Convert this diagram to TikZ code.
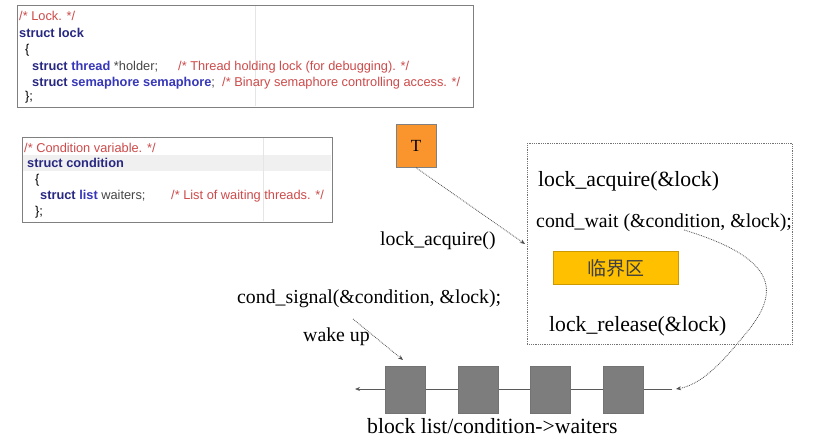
\documentclass[tikz,border=0pt]{standalone}
\usepackage{fontspec}
\setmainfont{Liberation Serif}
\newfontfamily\codefont{Liberation Sans}
\newfontfamily\cjk{Noto Sans CJK SC}
\usetikzlibrary{arrows.meta}
\definecolor{cmt}{RGB}{205,75,75}
\definecolor{kw}{RGB}{40,40,130}
\definecolor{ty}{RGB}{55,55,185}
\definecolor{idt}{RGB}{70,70,70}
\definecolor{orangeT}{RGB}{250,148,45}
\definecolor{crit}{RGB}{255,192,0}
\definecolor{blk}{RGB}{125,125,125}
\begin{document}
\begin{tikzpicture}[x=1pt,y=-1pt,
  code/.style={anchor=base west, inner sep=0pt, font=\codefont\fontsize{12.8}{14}\selectfont},
  lbl/.style={anchor=base west, inner sep=0pt, font=\fontsize{19.8}{22}\selectfont},
  biglbl/.style={anchor=base west, inner sep=0pt, font=\fontsize{21.7}{24}\selectfont},
  codebox/.style={draw=gray, line width=1.3pt, anchor=north west, inner sep=0pt},
  dotarr/.style={densely dotted, line width=0.8pt, draw=black!70, -{Stealth[length=5pt,width=4pt]}},
  qbox/.style={draw=black!55, fill=blk, minimum width=40pt, minimum height=47pt, inner sep=0pt}]
\useasboundingbox (0,0) rectangle (821,438);
\clip (0,0) rectangle (821,438);
\fill[white] (0,0) rectangle (821,438);

% ---- code box 1
\node[codebox, minimum width=456pt, minimum height=102pt] (box1) at (17,5) {};
\draw[gray!20] (255,6) -- (255,106);
\node[code, text=cmt] (l1) at (19,21) {/* Lock. */};
\node[code, text=kw] (l2) at (19,37.5) {\bfseries struct lock};
\node[code] (l3) at (25,54) {\{};
\node[code] (l4) at (32,71) {\bfseries\color{kw}struct \color{ty}thread \mdseries\color{idt}*holder;};
\node[code, text=cmt] (l4c) at (178,71) {/* Thread holding lock (for debugging). */};
\node[code] (l5) at (32,86.5) {\bfseries\color{kw}struct \color{ty}semaphore semaphore\mdseries\color{idt};};
\node[code, text=cmt] (l5c) at (222,86.5) {/* Binary semaphore controlling access. */};
\node[code] (l6) at (25,101) {\};};

% ---- code box 2
\fill[gray!12] (23,155) rectangle (331,171);
\node[codebox, minimum width=310pt, minimum height=85pt] (box2) at (22,137) {};
\draw[gray!20] (263,138) -- (263,221);
\node[code, text=cmt] (m1) at (24,152.5) {/* Condition variable. */};
\node[code, text=kw] (m2) at (27,167.5) {\bfseries struct condition};
\node[code] (m3) at (35,184) {\{};
\node[code] (m4) at (40,199.5) {\bfseries\color{kw}struct \color{ty}list \mdseries\color{idt}waiters;};
\node[code, text=cmt] (m4c) at (171,199.5) {/* List of waiting threads. */};
\node[code] (m5) at (35,215.5) {\};};

% ---- thread T
\node[draw=black!50, fill=orangeT, minimum width=40pt, minimum height=43pt, inner sep=0pt,
      font=\fontsize{17}{18}\selectfont] (T) at (416,146) {T};

% ---- dotted frame
\node[draw=black!55, densely dotted, line width=0.8pt, anchor=north west,
      minimum width=265pt, minimum height=201pt, inner sep=0pt] (frame) at (527,143) {};
\node[biglbl] (acq) at (538,187) {lock\_acquire(\&lock)};
\node[lbl] (wait) at (536,228) {cond\_wait (\&condition, \&lock);};
\node[fill=crit, draw=crit!80!black, minimum width=125pt, minimum height=33pt, inner sep=0pt,
      font=\cjk\fontsize{19}{20}\selectfont, text=black!75] (cs) at (615.5,268) {\raisebox{-3pt}{临界区}};
\node[biglbl] (rel) at (549,331) {lock\_release(\&lock)};

% ---- left labels
\node[lbl] (la) at (380,246) {lock\_acquire()};
\node[lbl] (sig) at (237,303) {cond\_signal(\&condition, \&lock);};
\node[lbl] (wake) at (303,341) {wake up};

% ---- waiting list
\coordinate (lineL) at (355,389);
\coordinate (lineR) at (672,389);
\draw[black!65, line width=0.8pt, -{Stealth[length=5pt,width=4pt]}] (lineR) -- (lineL);
\node[qbox] (q1) at (405,389.5) {};
\node[qbox] (q2) at (478,389.5) {};
\node[qbox] (q3) at (550,389.5) {};
\node[qbox] (q4) at (623,389.5) {};
\node[biglbl] (bl) at (367,433.5) {block list/condition-{}>waiters};

% ---- connectors
\coordinate (tEnd) at (525,244);
\draw[dotarr] (T.south) -- (tEnd);
\coordinate (wStart) at (353,319);
\coordinate (wEnd) at (403,360);
\draw[dotarr] (wStart) -- (wEnd);
\coordinate (cStart) at (684,230);
\coordinate (cEnd) at (676,389);
\draw[dotarr] (cStart) .. controls (790,262) and (775,300) .. (742,338)
   .. controls (720,365) and (700,385) .. (cEnd);
\end{tikzpicture}
\end{document}
